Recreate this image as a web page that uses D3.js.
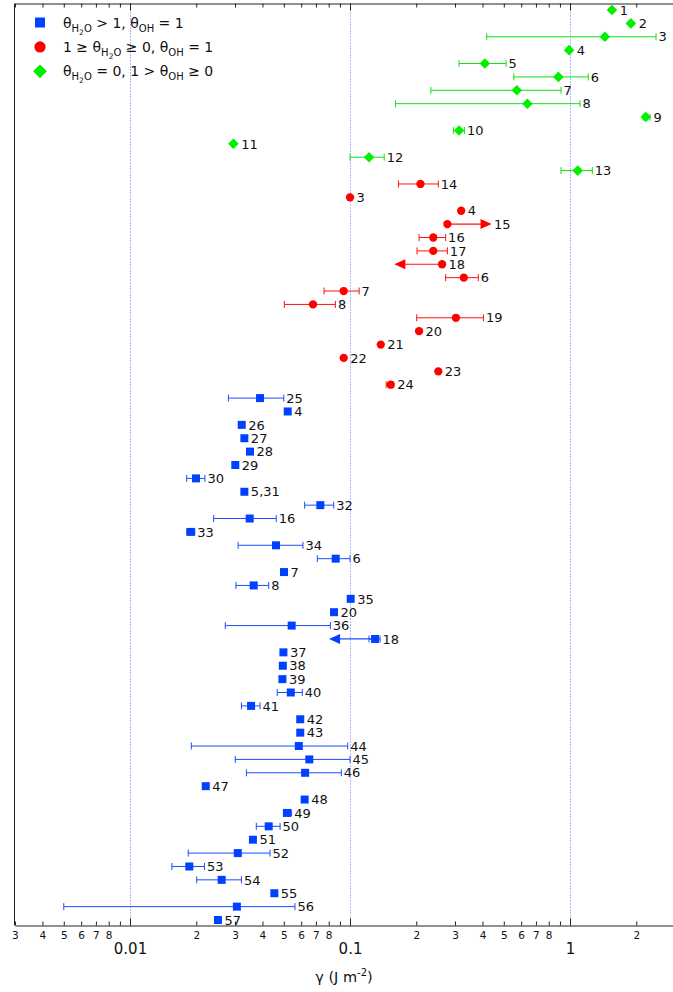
<!DOCTYPE html>
<html>
<head>
<meta charset="utf-8">
<script src="https://cdn.jsdelivr.net/npm/d3@7"></script>
<style>
  body { margin: 0; background: #fff; }
  svg { display: block; }
  text { font-family: "DejaVu Sans", sans-serif; fill: #111; }
</style>
</head>
<body>
<svg id="chart" width="673" height="992"></svg>
<script>
// Surface energies γ (J m^-2), one row per entry, top to bottom.

// θH2O = 0, 1 > θOH ≥ 0
const greenLabels = ["1","2","3","4","5","6","7","8","9","10","11","12","13"];
const greenValues = [1.55, 1.89, 1.44, 0.99, 0.41, 0.885, 0.573, 0.64, 2.21, 0.313, 0.0295, 0.122, 1.084];
const greenLow    = [null, null, 0.418, null, 0.313, 0.555, 0.233, 0.161, 2.15, 0.295, null, 0.1, 0.91];
const greenHigh   = [null, null, 2.46, null, 0.512, 1.21, 0.91, 1.11, 2.31, 0.331, null, 0.143, 1.263];
const greenArrow  = [null, null, null, null, null, null, null, null, null, null, null, null, null];

// 1 ≥ θH2O ≥ 0, θOH = 1
const redLabels = ["14","3","4","15","16","17","18","6","7","8","19","20","21","22","23","24"];
const redValues = [0.209, 0.1, 0.32, 0.277, 0.239, 0.239, 0.262, 0.329, 0.0936, 0.0679, 0.303, 0.206, 0.138, 0.0936, 0.252, 0.153];
const redLow    = [0.166, null, null, null, 0.206, 0.2017, null, 0.272, 0.0762, 0.0503, 0.201, null, null, null, null, 0.146];
const redHigh   = [0.252, null, null, null, 0.272, 0.277, null, 0.383, 0.110, 0.0858, 0.404, null, null, null, null, 0.158];
const redArrow  = [null, null, null, 0.44, null, null, 0.159, null, null, null, null, null, null, null, null, null];

// θH2O > 1, θOH = 1
const blueLabels = ["25","4","26","27","28","29","30","5,31","32","16",
                    "33","34","6","7","8","35","20","36","18","37",
                    "38","39","40","41","42","43","44","45","46","47",
                    "48","49","50","51","52","53","54","55","56","57"];
const blueValues = [0.039, 0.0521, 0.0322, 0.0331, 0.0351, 0.0301, 0.01995, 0.0331, 0.0733, 0.035,
                    0.0189, 0.0461, 0.0861, 0.0501, 0.0365, 0.1007, 0.0846, 0.0543, 0.130, 0.0498,
                    0.0495, 0.0493, 0.0538, 0.0355, 0.0594, 0.0594, 0.0585, 0.0653, 0.0625, 0.0221,
                    0.0622, 0.0517, 0.0427, 0.0362, 0.0309, 0.0186, 0.0261, 0.0453, 0.0306, 0.0251];
const blueLow    = [0.028, null, null, null, null, null, 0.0181, null, 0.0622, 0.024,
                    0.0181, 0.031, 0.071, null, 0.0303, null, null, 0.0271, 0.122, null,
                    null, null, 0.0467, 0.0321, null, null, 0.019, 0.0301, 0.0338, null,
                    null, 0.0498, 0.0375, null, 0.0184, 0.0155, 0.0201, null, 0.005, null];
const blueHigh   = [0.050, null, null, null, null, null, 0.0219, null, 0.0843, 0.0462,
                    0.0197, 0.0611, 0.1, null, 0.0427, null, null, 0.0814, 0.137, null,
                    null, null, 0.0607, 0.039, null, null, 0.0976, 0.1, 0.0913, null,
                    null, 0.0543, 0.0481, null, 0.0433, 0.0218, 0.0321, null, 0.0562, null];
const blueArrow  = [null, null, null, null, null, null, null, null, null, null,
                    null, null, null, null, null, null, null, null, 0.0803, null,
                    null, null, null, null, null, null, null, null, null, null,
                    null, null, null, null, null, null, null, null, null, null];

// Axis ticks
const minorTicks = [0.003,0.004,0.005,0.006,0.007,0.008,0.009,
                    0.02,0.03,0.04,0.05,0.06,0.07,0.08,0.09,
                    0.2,0.3,0.4,0.5,0.6,0.7,0.8,0.9,
                    2];
const minorTickLabels = ["3","4","5","6","7","8","",
                         "2","3","4","5","6","7","8","",
                         "2","3","4","5","6","7","8","",
                         "2"];
const majorTicks = [0.01, 0.1, 1];
const majorTickLabels = ["0.01", "0.1", "1"];

const series = [
  { key: "blue",  color: "#0040ff", line: "#1a4dff", shape: "square",
    labels: blueLabels, values: blueValues, low: blueLow, high: blueHigh, arrow: blueArrow },
  { key: "red",   color: "#ff0000", line: "#ff1010", shape: "circle",
    labels: redLabels, values: redValues, low: redLow, high: redHigh, arrow: redArrow },
  { key: "green", color: "#00f000", line: "#10e010", shape: "diamond",
    labels: greenLabels, values: greenValues, low: greenLow, high: greenHigh, arrow: greenArrow }
];

// Rows stacked top to bottom: green, red, blue
const rowOrder = ["green", "red", "blue"];
const rows = [];
rowOrder.forEach(k => {
  const s = series.find(d => d.key === k);
  s.values.forEach((v, i) => rows.push({
    s, label: s.labels[i], value: v, low: s.low[i], high: s.high[i], arrow: s.arrow[i]
  }));
});
rows.forEach((r, i) => r.index = i);

const svg = d3.select("#chart");
const yTop = 3.5, yBottom = 925.5;

const x = d3.scaleLog().domain([0.003, 3]).range([14.96, 675]);
const y = d3.scalePoint().domain(rows.map(r => r.index)).range([10, 920]);

// Grid lines at the decades
svg.append("g").selectAll("line").data(majorTicks).join("line")
  .attr("x1", d => Math.round(x(d)) + 0.5).attr("x2", d => Math.round(x(d)) + 0.5)
  .attr("y1", yTop).attr("y2", yBottom)
  .attr("stroke", "#6b6bff").attr("stroke-width", 1).attr("stroke-dasharray", "1,2");

// Bottom axis: minor ticks with single-digit labels
const axMinor = svg.append("g").attr("transform", `translate(0,${yBottom})`)
  .call(d3.axisBottom(x).tickValues(minorTicks)
        .tickFormat((d, i) => minorTickLabels[i])
        .tickSizeInner(-4).tickSizeOuter(0).tickPadding(6));
axMinor.selectAll("text").style("font-size", "10.5px").attr("fill", "#222");

// Bottom axis: decades, longer ticks and labels on a second line
const axMajor = svg.append("g").attr("transform", `translate(0,${yBottom})`)
  .call(d3.axisBottom(x).tickValues(majorTicks)
        .tickFormat((d, i) => majorTickLabels[i])
        .tickSizeInner(-7).tickSizeOuter(0).tickPadding(18));
axMajor.select(".domain").remove();
axMajor.selectAll("text").style("font-size", "15px").attr("fill", "#222");

// Top border with inward ticks
svg.append("g").attr("transform", `translate(0,${yTop})`)
  .call(d3.axisTop(x).tickValues(minorTicks).tickFormat("").tickSizeInner(-4).tickSizeOuter(0));
svg.append("g").attr("transform", `translate(0,${yTop})`)
  .call(d3.axisTop(x).tickValues(majorTicks).tickFormat("").tickSizeInner(-7).tickSizeOuter(0))
  .select(".domain").remove();

svg.selectAll(".domain, .tick line").attr("stroke", "#222");

// Left border
svg.append("line").attr("x1", 14.5).attr("x2", 14.5).attr("y1", yTop).attr("y2", yBottom)
  .attr("stroke", "#222");

// Axis title
const title = svg.append("text").attr("x", 344).attr("y", 982).attr("text-anchor", "middle")
  .style("font-size", "14.5px");
title.append("tspan").text("γ (J m");
title.append("tspan").attr("dy", -6).style("font-size", "10px").text("-2");
title.append("tspan").attr("dy", 6).text(")");

const plot = svg.append("g");
const capH = 3.5;

// Error bars
const withErr = rows.filter(r => r.low != null);
plot.append("g").selectAll("g").data(withErr).join("g")
  .attr("stroke", d => d.s.line).attr("stroke-width", 1)
  .each(function(d) {
    const g = d3.select(this), yy = y(d.index);
    g.append("line").attr("x1", x(d.low)).attr("x2", x(d.high)).attr("y1", yy).attr("y2", yy);
    g.append("line").attr("x1", x(d.low)).attr("x2", x(d.low)).attr("y1", yy - capH).attr("y2", yy + capH);
    g.append("line").attr("x1", x(d.high)).attr("x2", x(d.high)).attr("y1", yy - capH).attr("y2", yy + capH);
  });

// One-sided bounds as arrows
const withArrow = rows.filter(r => r.arrow != null);
plot.append("g").selectAll("g").data(withArrow).join("g")
  .each(function(d) {
    const g = d3.select(this), yy = y(d.index);
    const x0 = x(d.value), x1 = x(d.arrow), dir = Math.sign(x1 - x0);
    g.append("line").attr("x1", x0).attr("x2", x1 - dir * 8).attr("y1", yy).attr("y2", yy)
      .attr("stroke", d.s.line).attr("stroke-width", 1.2);
    g.append("path")
      .attr("d", `M${x1},${yy} L${x1 - dir * 11},${yy - 5} L${x1 - dir * 11},${yy + 5} Z`)
      .attr("fill", d.s.color);
  });

// Markers
const sym = {
  square: d3.symbol(d3.symbolSquare, 64),
  circle: d3.symbol(d3.symbolCircle, 54),
  diamond: d3.symbol(d3.symbolSquare, 56)
};
plot.append("g").selectAll("path").data(rows).join("path")
  .attr("transform", d => `translate(${x(d.value)},${y(d.index)})` + (d.s.shape === "diamond" ? " rotate(45)" : ""))
  .attr("d", d => sym[d.s.shape]())
  .attr("fill", d => d.s.color);

// Row labels, placed just right of the rightmost element of each row
const halfW = { square: 4, circle: 4, diamond: 5.3 };
plot.append("g").selectAll("text").data(rows).join("text")
  .attr("x", d => {
    let r = x(d.value) + halfW[d.s.shape];
    if (d.high != null) r = Math.max(r, x(d.high));
    if (d.arrow != null) r = Math.max(r, x(d.arrow));
    return r + 2.5;
  })
  .attr("y", d => y(d.index))
  .attr("dy", "0.36em")
  .style("font-size", "13px")
  .text(d => d.label);

// Legend
const legendRows = [
  { shape: "square",  color: "#0040ff", parts: [["θ",0],["H",1],["2",2],["O",1],[" > 1, θ",0],["OH",1],[" = 1",0]] },
  { shape: "circle",  color: "#ff0000", parts: [["1 ≥ θ",0],["H",1],["2",2],["O",1],[" ≥ 0, θ",0],["OH",1],[" = 1",0]] },
  { shape: "diamond", color: "#00f000", parts: [["θ",0],["H",1],["2",2],["O",1],[" = 0, 1 > θ",0],["OH",1],[" ≥ 0",0]] }
];
const legendSym = {
  square: d3.symbol(d3.symbolSquare, 100),
  circle: d3.symbol(d3.symbolCircle, 100),
  diamond: d3.symbol(d3.symbolSquare, 95)
};
const levelSize = [14, 10, 7.5];
const levelShift = [0, 4, 7];
const legend = svg.append("g");
legendRows.forEach((row, i) => {
  const yy = 22.5 + i * 24.4;
  legend.append("path")
    .attr("transform", `translate(40,${yy})` + (row.shape === "diamond" ? " rotate(45)" : ""))
    .attr("d", legendSym[row.shape]()).attr("fill", row.color);
  const t = legend.append("text").attr("x", 63).attr("y", yy + 5);
  let cur = 0;
  row.parts.forEach(([txt, lvl]) => {
    t.append("tspan").attr("dy", levelShift[lvl] - cur)
      .style("font-size", levelSize[lvl] + "px").text(txt);
    cur = levelShift[lvl];
  });
});
</script>
</body>
</html>
